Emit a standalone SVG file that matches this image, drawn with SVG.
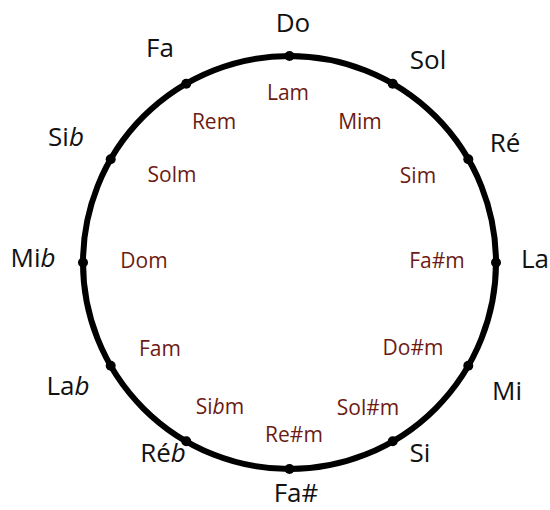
<svg xmlns="http://www.w3.org/2000/svg" width="550" height="510" viewBox="0 0 550 510">
<style>
.maj{font-family:"Open Sans",Lato,"Liberation Sans",sans-serif;font-size:26px;fill:#111;text-anchor:middle}
.min{font-family:"Open Sans",Lato,"Liberation Sans",sans-serif;font-size:21px;fill:#6b1b14;text-anchor:middle}
.dot{fill:#000}
</style>
<rect width="550" height="510" fill="#fff"/>
<g id="connectors">
<circle cx="289.5" cy="262.5" r="206.5" fill="none" stroke="#000" stroke-width="6"/>
</g>
<g id="dots">
<circle class="dot" cx="289.5" cy="56" r="5"/>
<circle class="dot" cx="392.75" cy="83.7" r="5"/>
<circle class="dot" cx="468.3" cy="159.25" r="5"/>
<circle class="dot" cx="496" cy="262.5" r="5"/>
<circle class="dot" cx="468.3" cy="365.75" r="5"/>
<circle class="dot" cx="392.75" cy="441.3" r="5"/>
<circle class="dot" cx="289.5" cy="469" r="5"/>
<circle class="dot" cx="186.25" cy="441.3" r="5"/>
<circle class="dot" cx="110.7" cy="365.75" r="5"/>
<circle class="dot" cx="83" cy="262.5" r="5"/>
<circle class="dot" cx="110.7" cy="159.25" r="5"/>
<circle class="dot" cx="186.25" cy="83.7" r="5"/>
</g>
<g id="major">
<text class="maj" x="293" y="32">Do</text>
<text class="maj" x="428" y="69">Sol</text>
<text class="maj" x="505" y="152">Ré</text>
<text class="maj" x="535" y="268">La</text>
<text class="maj" x="507" y="400">Mi</text>
<text class="maj" x="420" y="462">Si</text>
<text class="maj" x="296" y="502">Fa#</text>
<text class="maj" x="163" y="462">Ré<tspan font-style="italic">b</tspan></text>
<text class="maj" x="68" y="395">La<tspan font-style="italic">b</tspan></text>
<text class="maj" x="33" y="267">Mi<tspan font-style="italic">b</tspan></text>
<text class="maj" x="66" y="146">Si<tspan font-style="italic">b</tspan></text>
<text class="maj" x="160" y="57">Fa</text>
</g>
<g id="minor">
<text class="min" x="288" y="100">Lam</text>
<text class="min" x="360" y="129">Mim</text>
<text class="min" x="418" y="183">Sim</text>
<text class="min" x="437" y="268">Fa#m</text>
<text class="min" x="413" y="355">Do#m</text>
<text class="min" x="368" y="415">Sol#m</text>
<text class="min" x="294" y="442">Re#m</text>
<text class="min" x="220" y="414">Si<tspan font-style="italic">b</tspan>m</text>
<text class="min" x="160" y="356">Fam</text>
<text class="min" x="144" y="268">Dom</text>
<text class="min" x="172" y="182">Solm</text>
<text class="min" x="214" y="129">Rem</text>
</g>
</svg>
